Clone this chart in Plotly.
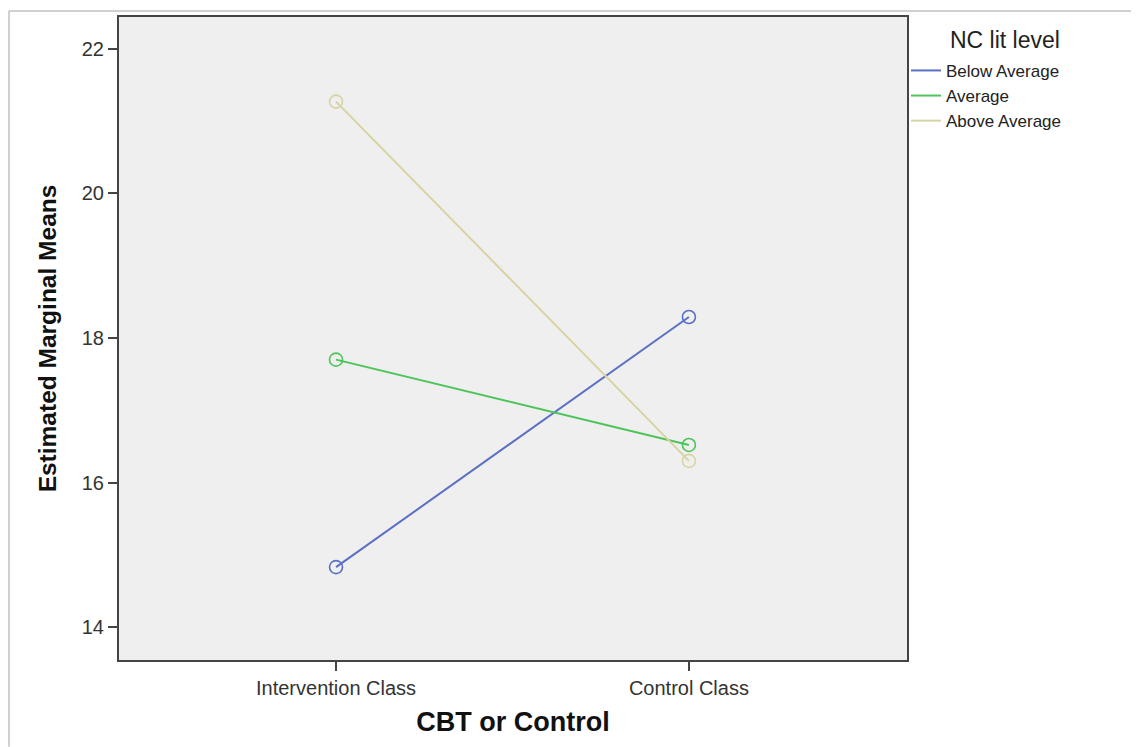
import plotly.graph_objects as go

categories = ["Intervention Class", "Control Class"]
groups = ["Below Average", "Average", "Above Average"]
below_avg = [14.83, 18.29]
average = [17.70, 16.52]
above_avg = [21.27, 16.30]
colors = ["#5b6fc4", "#4cc45a", "#d8d3a2"]
y_ticks = [14, 16, 18, 20, 22]

OFF = 8  # page offset of the figure
W, H = 1139 - OFF, 747 - OFF
L, R, T, B = 119 - OFF, 907 - OFF, 15 - OFF, 660 - OFF
font = "Liberation Sans, Arial, sans-serif"

x_idx = list(range(len(categories)))
fig = go.Figure()
for name, vals, col in zip(groups, [below_avg, average, above_avg], colors):
    fig.add_trace(go.Scatter(x=x_idx, y=vals, mode="lines", name=name,
                             line=dict(color=col, width=2)))
for name, vals, col in zip(groups, [below_avg, average, above_avg], colors):
    fig.add_trace(go.Scatter(x=x_idx, y=vals, mode="markers", name=name, showlegend=False,
                             marker=dict(symbol="circle-open", size=13, color=col,
                                         line=dict(width=1.6, color=col))))

def px2x(px):
    return (px - OFF - L) / (R - L)

def px2y(py):
    return (B - (py - OFF)) / (B - T)

fig.update_layout(
    width=W, height=H,
    margin=dict(l=L, r=W - R, t=T, b=H - B),
    paper_bgcolor="white", plot_bgcolor="#efefef",
    font=dict(family=font, color="#333333"),
    showlegend=True,
    legend=dict(x=px2x(906), y=px2y(51), xanchor="left", yanchor="top",
                font=dict(size=17, color="#222222"), bgcolor="rgba(0,0,0,0)",
                tracegroupgap=0, itemwidth=30),
    xaxis=dict(range=[-0.615, 1.618], tickvals=x_idx, ticktext=categories,
               showgrid=False, zeroline=False, ticks="outside", ticklen=9, tickwidth=2,
               tickcolor="#444444", showline=True, linecolor="#444444", linewidth=2,
               mirror=True, tickfont=dict(size=20, color="#333333"),
               title=dict(text="<b>CBT or Control</b>", font=dict(size=27, color="#111111"), standoff=14)),
    yaxis=dict(range=[13.545, 22.44], tickvals=y_ticks, showgrid=False, zeroline=False,
               ticks="outside", ticklen=9, tickwidth=2, tickcolor="#444444",
               showline=True, linecolor="#444444", linewidth=2, mirror=True,
               tickfont=dict(size=20, color="#333333"),
               title=dict(text="<b>Estimated Marginal Means</b>", font=dict(size=24.5, color="#111111"), standoff=18)),
    annotations=[dict(text="NC lit level", x=px2x(948), y=px2y(38), xref="paper", yref="paper",
                      xanchor="left", yanchor="middle", showarrow=False,
                      font=dict(size=23, color="#222222"))],
    shapes=[
        dict(type="line", xref="paper", yref="paper", x0=px2x(9), x1=px2x(1139),
             y0=px2y(9), y1=px2y(9), line=dict(color="#c0c0c0", width=1.5)),
        dict(type="line", xref="paper", yref="paper", x0=px2x(9), x1=px2x(9),
             y0=px2y(9), y1=px2y(747), line=dict(color="#c0c0c0", width=1.5)),
    ],
)

fig.write_html("out.html")
